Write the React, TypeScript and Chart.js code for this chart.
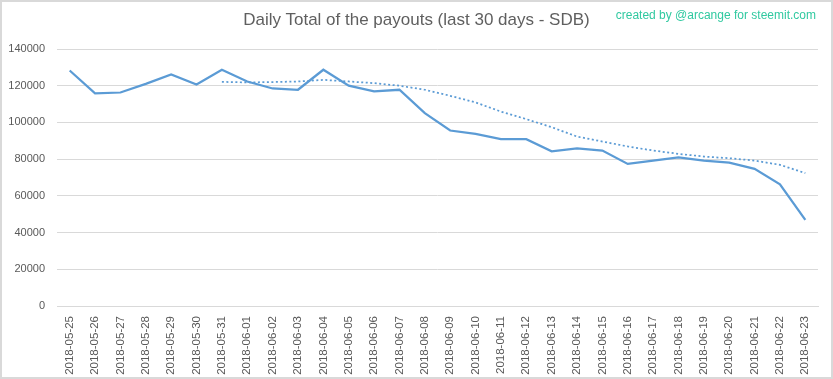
import React, { useEffect, useRef } from "react";
import { Chart, registerables } from "chart.js";

Chart.register(...registerables);

const dates = [
  "2018-05-25", "2018-05-26", "2018-05-27", "2018-05-28", "2018-05-29", "2018-05-30",
  "2018-05-31", "2018-06-01", "2018-06-02", "2018-06-03", "2018-06-04", "2018-06-05",
  "2018-06-06", "2018-06-07", "2018-06-08", "2018-06-09", "2018-06-10", "2018-06-11",
  "2018-06-12", "2018-06-13", "2018-06-14", "2018-06-15", "2018-06-16", "2018-06-17",
  "2018-06-18", "2018-06-19", "2018-06-20", "2018-06-21", "2018-06-22", "2018-06-23",
];

const payouts = [
  128300, 115800, 116300, 121000, 126100, 120700,
  128700, 122300, 118500, 117800, 128700, 120000,
  116900, 117800, 105100, 95600, 93800, 90900,
  90900, 84300, 85800, 84700, 77400, 79200,
  80900, 79200, 78100, 74700, 66300, 46900,
];

const trend = [
  null, null, null, null, null, null,
  122100, 121800, 122000, 122300, 123200, 122300,
  121400, 120000, 117800, 114500, 110900, 105900,
  101800, 97400, 92300, 89600, 86900, 84700,
  82900, 81400, 80500, 79200, 76900, 72400,
];

const yTicks = [0, 20000, 40000, 60000, 80000, 100000, 120000, 140000];

const titleText = "Daily Total of the payouts (last 30 days - SDB)";
const creditText = "created by @arcange for steemit.com";

export default function App() {
  const ref = useRef<HTMLCanvasElement>(null);

  useEffect(() => {
    document.body.style.margin = "0";
    const ctx = ref.current!.getContext("2d")!;
    const blue = "#5b9bd5";
    const chart = new Chart(ctx, {
      type: "line",
      data: {
        labels: dates,
        datasets: [
          {
            label: "Payouts",
            data: payouts,
            borderColor: blue,
            borderWidth: 2.25,
            pointRadius: 0,
            tension: 0,
            fill: false,
          },
          {
            label: "Trend",
            data: trend,
            borderColor: blue,
            borderWidth: 1.75,
            borderDash: [2, 2.5],
            pointRadius: 0,
            tension: 0,
            fill: false,
            spanGaps: false,
          },
        ],
      },
      options: {
        animation: false,
        responsive: false,
        maintainAspectRatio: false,
        layout: { padding: { left: 0, right: 15, top: 49, bottom: 0 } },
        plugins: {
          legend: { display: false },
          tooltip: { enabled: false },
          title: { display: false },
        },
        scales: {
          x: {
            offset: true,
            grid: { display: false, drawTicks: false },
            border: { display: true, color: "#d9d9d9", width: 1 },
            ticks: {
              autoSkip: false,
              minRotation: 90,
              maxRotation: 90,
              padding: 10,
              color: "#595959",
              font: { family: "'Liberation Sans', Arial, sans-serif", size: 11.5 },
            },
            afterFit: (s: any) => {
              s.height = 73;
            },
          },
          y: {
            min: 0,
            max: 140000,
            afterBuildTicks: (s: any) => {
              s.ticks = yTicks.map((v) => ({ value: v }));
            },
            grid: { color: "#d9d9d9", lineWidth: 1, drawTicks: false },
            border: { display: false },
            ticks: {
              padding: 12,
              color: "#595959",
              font: { family: "'Liberation Sans', Arial, sans-serif", size: 11 },
              callback: (v: any) => String(v),
            },
            afterFit: (s: any) => {
              s.width = 57;
            },
          },
        },
      },
    });
    return () => chart.destroy();
  }, []);

  return (
    <div style={{ position: "relative", width: 833, height: 379, background: "#fff" }}>
      <canvas ref={ref} width={833} height={379} style={{ position: "absolute", left: 0, top: 0 }} />
      <div
        style={{
          position: "absolute",
          left: 0,
          top: 9,
          width: 833,
          textAlign: "center",
          fontFamily: "'Liberation Sans', Arial, sans-serif",
          fontSize: 17,
          color: "#5f5f5f",
          lineHeight: "22px",
        }}
      >
        {titleText}
      </div>
      <div
        style={{
          position: "absolute",
          right: 17,
          top: 7,
          fontFamily: "'Liberation Sans', Arial, sans-serif",
          fontSize: 12,
          color: "#30c9a0",
          lineHeight: "16px",
        }}
      >
        {creditText}
      </div>
      <div
        style={{
          position: "absolute",
          left: 0,
          top: 0,
          width: 833,
          height: 379,
          boxSizing: "border-box",
          border: "2px solid #d9d9d9",
          pointerEvents: "none",
        }}
      />
    </div>
  );
}
